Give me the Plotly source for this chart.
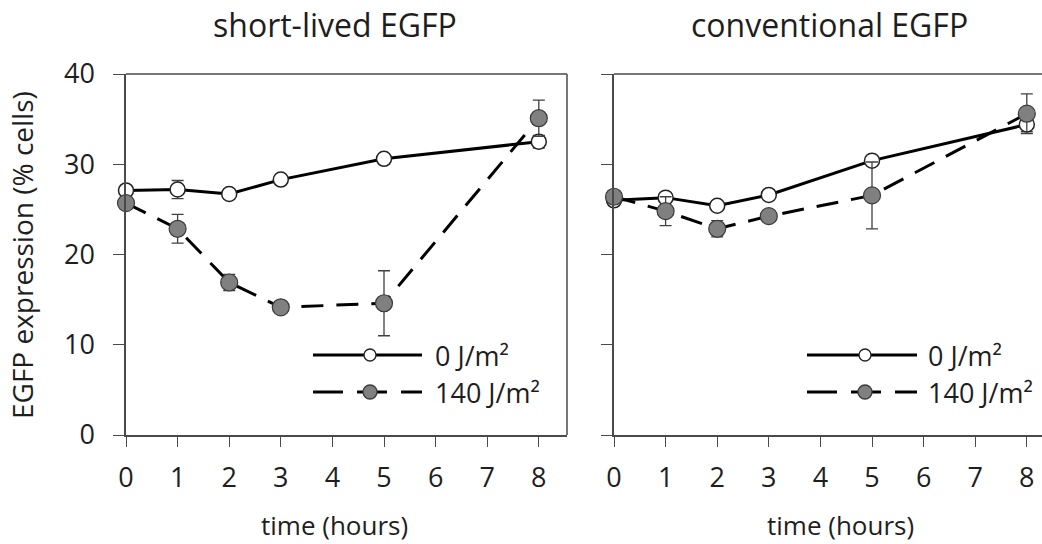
import plotly.graph_objects as go

# ---------------- data ----------------
hours = [0, 1, 2, 3, 5, 8]

short_0 = [27.1, 27.2, 26.7, 28.3, 30.6, 32.5]
short_0_err = [0.4, 1.0, 0.5, 0.3, 0.3, 0.7]
short_140 = [25.7, 22.85, 16.9, 14.15, 14.6, 35.1]
short_140_err = [0.3, 1.6, 0.9, 0.3, 3.6, 2.0]

conv_0 = [26.0, 26.3, 25.4, 26.6, 30.4, 34.4]
conv_0_err = [0.3, 0.3, 0.3, 0.3, 0.5, 0.8]
conv_140 = [26.4, 24.8, 22.85, 24.25, 26.55, 35.6]
conv_140_err = [0.3, 1.6, 0.9, 0.3, 3.7, 2.2]

panel_titles = ["short-lived EGFP", "conventional EGFP"]
legend_labels = ["0 J/m²", "140 J/m²"]
y_ticks = [0, 10, 20, 30, 40]
x_ticks = [0, 1, 2, 3, 4, 5, 6, 7, 8]

# ---------------- layout geometry ----------------
W, H = 1042, 544
L, R, T, B = 126, 0, 74, 109
PW = W - L - R
PH = H - T - B
FONT = "Open Sans"
TXT = "#1e1e1e"
AX = "#4a4a4a"


def fx(px):
    return (px - L) / PW


def fy(py):
    return (H - B - py) / PH


fig = go.Figure()

panels = [
    ("x", "y", short_0, short_0_err, short_140, short_140_err),
    ("x2", "y2", conv_0, conv_0_err, conv_140, conv_140_err),
]

for xa, ya, v0, e0, v140, e140 in panels:
    fig.add_trace(go.Scatter(
        x=hours, y=v0, xaxis=xa, yaxis=ya, mode="lines+markers",
        line=dict(color="black", width=3),
        marker=dict(size=15, color="white", line=dict(color="#222222", width=1.5)),
        error_y=dict(type="data", array=e0, visible=True, color="#404040",
                     thickness=1.3, width=6),
        cliponaxis=False, showlegend=False, name=legend_labels[0]))
    fig.add_trace(go.Scatter(
        x=hours, y=v140, xaxis=xa, yaxis=ya, mode="lines+markers",
        line=dict(color="black", width=3, dash="22px,13px"),
        marker=dict(size=17, color="#808080", line=dict(color="#3a3a3a", width=1.2)),
        error_y=dict(type="data", array=e140, visible=True, color="#404040",
                     thickness=1.3, width=6),
        cliponaxis=False, showlegend=False, name=legend_labels[1]))

axis_common = dict(
    showgrid=False, zeroline=False, showline=True, linecolor=AX, linewidth=1.5,
    ticks="outside", tickcolor=AX, tickwidth=1.3, mirror=False,
    tickfont=dict(family=FONT, size=27, color=TXT),
)

left_end = 567
right_start = 614
unit = 51.6

fig.update_layout(
    width=W, height=H,
    margin=dict(l=L, r=R, t=T, b=B),
    paper_bgcolor="white", plot_bgcolor="white",
    xaxis=dict(axis_common, domain=[0, fx(left_end)],
               range=[0, (left_end - L) / unit], tickvals=x_ticks,
               ticklen=10, ticklabelstandoff=8, anchor="y"),
    yaxis=dict(axis_common, domain=[0, 1], range=[0, 40], tickvals=y_ticks,
               ticklen=11, ticklabelstandoff=13, anchor="x"),
    xaxis2=dict(axis_common, domain=[fx(right_start), 1],
                range=[0, (W - right_start) / unit], tickvals=x_ticks,
                ticklen=10, ticklabelstandoff=8, anchor="y2"),
    yaxis2=dict(axis_common, domain=[0, 1], range=[0, 40], tickvals=y_ticks,
                ticklen=11, showticklabels=False, anchor="x2"),
)

annotations = []
# panel titles
annotations.append(dict(text=panel_titles[0], x=fx(335), y=fy(25), xref="paper", yref="paper",
                        showarrow=False, xanchor="center", yanchor="middle",
                        font=dict(family=FONT, size=32, color=TXT)))
annotations.append(dict(text=panel_titles[1], x=fx(829), y=fy(25), xref="paper", yref="paper",
                        showarrow=False, xanchor="center", yanchor="middle",
                        font=dict(family=FONT, size=32, color=TXT)))
# axis titles
annotations.append(dict(text="EGFP expression (% cells)", x=fx(22), y=fy(255), xref="paper",
                        yref="paper", showarrow=False, textangle=-90, xanchor="center",
                        yanchor="middle", font=dict(family=FONT, size=28, color=TXT)))
for cx in (334, 840):
    annotations.append(dict(text="time (hours)", x=fx(cx), y=fy(525), xref="paper",
                            yref="paper", showarrow=False, xanchor="center", yanchor="middle",
                            font=dict(family=FONT, size=26, color=TXT)))

shapes = []
# frame lines: left panel top + right side, right panel top (cropped at the page edge)
frame = dict(color=AX, width=1.5)
shapes.append(dict(type="line", xref="x domain", yref="y domain", x0=0, x1=1, y0=1, y1=1,
                   line=frame))
shapes.append(dict(type="line", xref="x domain", yref="y domain", x0=1, x1=1, y0=0, y1=1,
                   line=frame))
shapes.append(dict(type="line", xref="x2 domain", yref="y2 domain", x0=0, x1=1.01, y0=1, y1=1,
                   line=frame))
# legends: (line start, line end, marker x, text x)
for x0, x1, mx, tx in [(313, 422, 370, 433), (807, 917, 865, 926)]:
    for i, (ry, dash, fill, lc, size) in enumerate([
            (355, "solid", "white", "#222222", 12),
            (392, "30px,14px", "#808080", "#3a3a3a", 14)]):
        shapes.append(dict(type="line", xref="paper", yref="paper",
                           x0=fx(x0), x1=fx(x1), y0=fy(ry), y1=fy(ry),
                           line=dict(color="black", width=3, dash=dash)))
        shapes.append(dict(type="circle", xref="paper", yref="paper",
                           xsizemode="pixel", ysizemode="pixel",
                           xanchor=fx(mx), yanchor=fy(ry),
                           x0=-size / 2, x1=size / 2, y0=-size / 2, y1=size / 2,
                           fillcolor=fill, line=dict(color=lc, width=1.3)))
        annotations.append(dict(text=legend_labels[i], x=fx(tx), y=fy(ry), xref="paper",
                                yref="paper", showarrow=False, xanchor="left",
                                yanchor="middle",
                                font=dict(family=FONT, size=27, color=TXT)))

fig.update_layout(annotations=annotations, shapes=shapes)

fig.write_html(
    "out.html",
    config={"displayModeBar": False},
    post_script="document.body.style.margin='0px';document.body.style.overflow='hidden';",
)
